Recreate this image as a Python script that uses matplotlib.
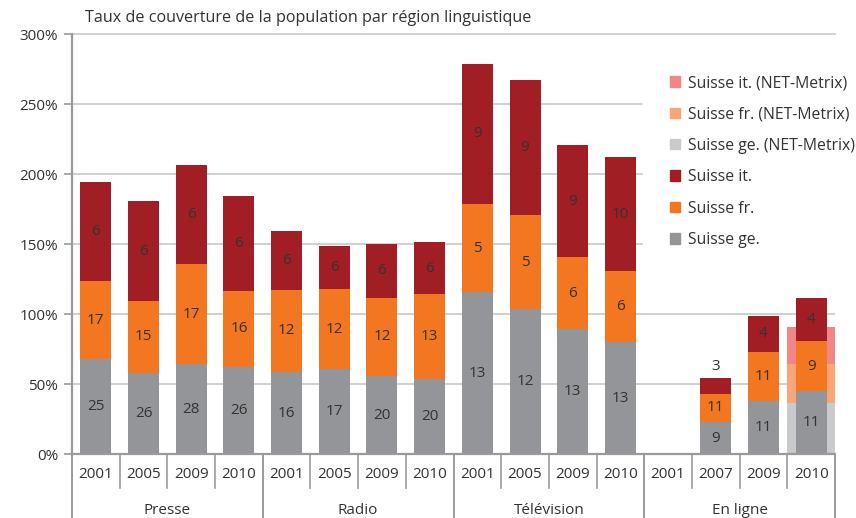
import numpy as np
import matplotlib
matplotlib.use("Agg")
import matplotlib.pyplot as plt
from matplotlib.patches import Patch

plt.rcParams['font.family'] = ['Open Sans', 'DejaVu Sans']

# categories
years = ['2001', '2005', '2009', '2010',
         '2001', '2005', '2009', '2010',
         '2001', '2005', '2009', '2010',
         '2001', '2007', '2009', '2010']
groups = ['Presse', 'Radio', 'Télévision', 'En ligne']

# coverage (%) per linguistic region, stacked
cov_ge = [67.9, 58.3, 64.3, 62.6, 58.8, 60.7, 56.1, 54.0,
          115.7, 103.6, 89.3, 80.0, 0, 23.1, 37.9, 45.2]
cov_fr = [55.9, 51.2, 71.8, 54.0, 58.6, 57.4, 55.8, 60.5,
          63.1, 67.1, 51.8, 50.7, 0, 20.0, 35.2, 35.7]
cov_it = [70.9, 71.2, 70.5, 67.9, 42.3, 30.7, 38.3, 36.9,
          100.2, 96.4, 79.6, 81.4, 0, 11.4, 25.7, 31.0]

# number of titles, shown inside the segments
n_ge = [25, 26, 28, 26, 16, 17, 20, 20, 13, 12, 13, 13, None, 9, 11, 11]
n_fr = [17, 15, 17, 16, 12, 12, 12, 13, 5, 5, 6, 6, None, 11, 11, 9]
n_it = [6, 6, 6, 6, 6, 6, 6, 6, 9, 9, 9, 10, None, 3, 4, 4]

# NET-Metrix (online 2010 only)
net_index = [15]
net_ge = [36.6]
net_fr = [27.9]
net_it = [26.5]

C_GE, C_FR, C_IT = '#939598', '#F37721', '#A11F24'
C_GE_N, C_FR_N, C_IT_N = '#C9CACC', '#F8A677', '#F08685'
TXT = '#333333'
AXC = '#9a9a9a'

fig = plt.figure(figsize=(8.56, 5.18), dpi=100)
ax = fig.add_axes([72 / 856, 1 - 454.3 / 518, 763 / 856, 420 / 518])

x = np.arange(len(years))
ge = np.array(cov_ge)
fr = np.array(cov_fr)
it = np.array(cov_it)

# NET-Metrix background bar
nb = np.array(net_ge)
ax.bar(net_index, net_ge, width=1.0, color=C_GE_N, zorder=1)
ax.bar(net_index, net_fr, width=1.0, bottom=nb, color=C_FR_N, zorder=1)
ax.bar(net_index, net_it, width=1.0, bottom=nb + np.array(net_fr), color=C_IT_N, zorder=1)

w = 0.65
ax.bar(x, ge, width=w, color=C_GE, zorder=2)
ax.bar(x, fr, width=w, bottom=ge, color=C_FR, zorder=2)
ax.bar(x, it, width=w, bottom=ge + fr, color=C_IT, zorder=2)

# segment labels
fs = 11
for i in range(len(x)):
    segs = [(0, ge[i], n_ge[i]), (ge[i], fr[i], n_fr[i]), (ge[i] + fr[i], it[i], n_it[i])]
    for bot, h, n in segs:
        if n is None:
            continue
        if h < 14:
            ax.text(x[i], bot + h + 8, str(n), ha='center', va='center', fontsize=fs, color=TXT, zorder=3)
        else:
            ax.text(x[i], bot + h / 2, str(n), ha='center', va='center', fontsize=fs, color=TXT, zorder=3)

# gridlines (cut where the legend sits)
for yv in [50, 100]:
    ax.axhline(yv, color='#c8c8c8', lw=1.2, zorder=0)
for yv in [150, 200, 250]:
    ax.axhline(yv, xmin=0, xmax=0.747, color='#c8c8c8', lw=1.2, zorder=0)
ax.axhline(300, color='#c8c8c8', lw=1.2, zorder=0, clip_on=False)

ax.set_xlim(-0.5, len(years) - 0.5)
ax.set_ylim(0, 300)
ax.set_yticks(np.arange(0, 301, 50))
ax.set_yticklabels([f'{v}%' for v in range(0, 301, 50)], fontsize=fs, color=TXT)
ax.tick_params(axis='y', length=6, width=1.2, color=AXC, pad=4)
ax.set_xticks([])

for s in ['top', 'right']:
    ax.spines[s].set_visible(False)
ax.spines['left'].set_color(AXC)
ax.spines['left'].set_linewidth(1.6)
ax.spines['bottom'].set_color(AXC)
ax.spines['bottom'].set_linewidth(1.6)

# two-level category axis
trans = ax.get_xaxis_transform()
for i, yr in enumerate(years):
    ax.text(i, -0.047, yr, transform=trans, ha='center', va='center', fontsize=fs, color=TXT)
for b in np.arange(0.5, len(years) - 1, 1.0):
    if (b + 0.5) % 4 != 0:
        ax.plot([b, b], [0, -0.080], transform=trans, color=AXC, lw=1.2, clip_on=False)
for b in [-0.5, 3.5, 7.5, 11.5, 15.5]:
    ax.plot([b, b], [0, -0.16], transform=trans, color=AXC, lw=1.4, clip_on=False)
for g, name in enumerate(groups):
    ax.text(g * 4 + 1.5, -0.133, name, transform=trans, ha='center', va='center', fontsize=fs, color=TXT)

fig.text(85 / 856, 1 - 18 / 518, 'Taux de couverture de la population par région linguistique',
         ha='left', va='center', fontsize=11.6, color=TXT)

handles = [Patch(color=C_IT_N), Patch(color=C_FR_N), Patch(color=C_GE_N),
           Patch(color=C_IT), Patch(color=C_FR), Patch(color=C_GE)]
labels = ['Suisse it. (NET-Metrix)', 'Suisse fr. (NET-Metrix)', 'Suisse ge. (NET-Metrix)',
          'Suisse it.', 'Suisse fr.', 'Suisse ge.']
leg = fig.legend(handles, labels, loc='upper left', bbox_to_anchor=(670 / 856, 1 - 75 / 518),
                 frameon=False, fontsize=11.3, handlelength=0.65, handleheight=0.65,
                 handletextpad=0.5, labelspacing=0.98, borderpad=0, borderaxespad=0)
for t in leg.get_texts():
    t.set_color(TXT)

fig.savefig('out.png', dpi=100)
